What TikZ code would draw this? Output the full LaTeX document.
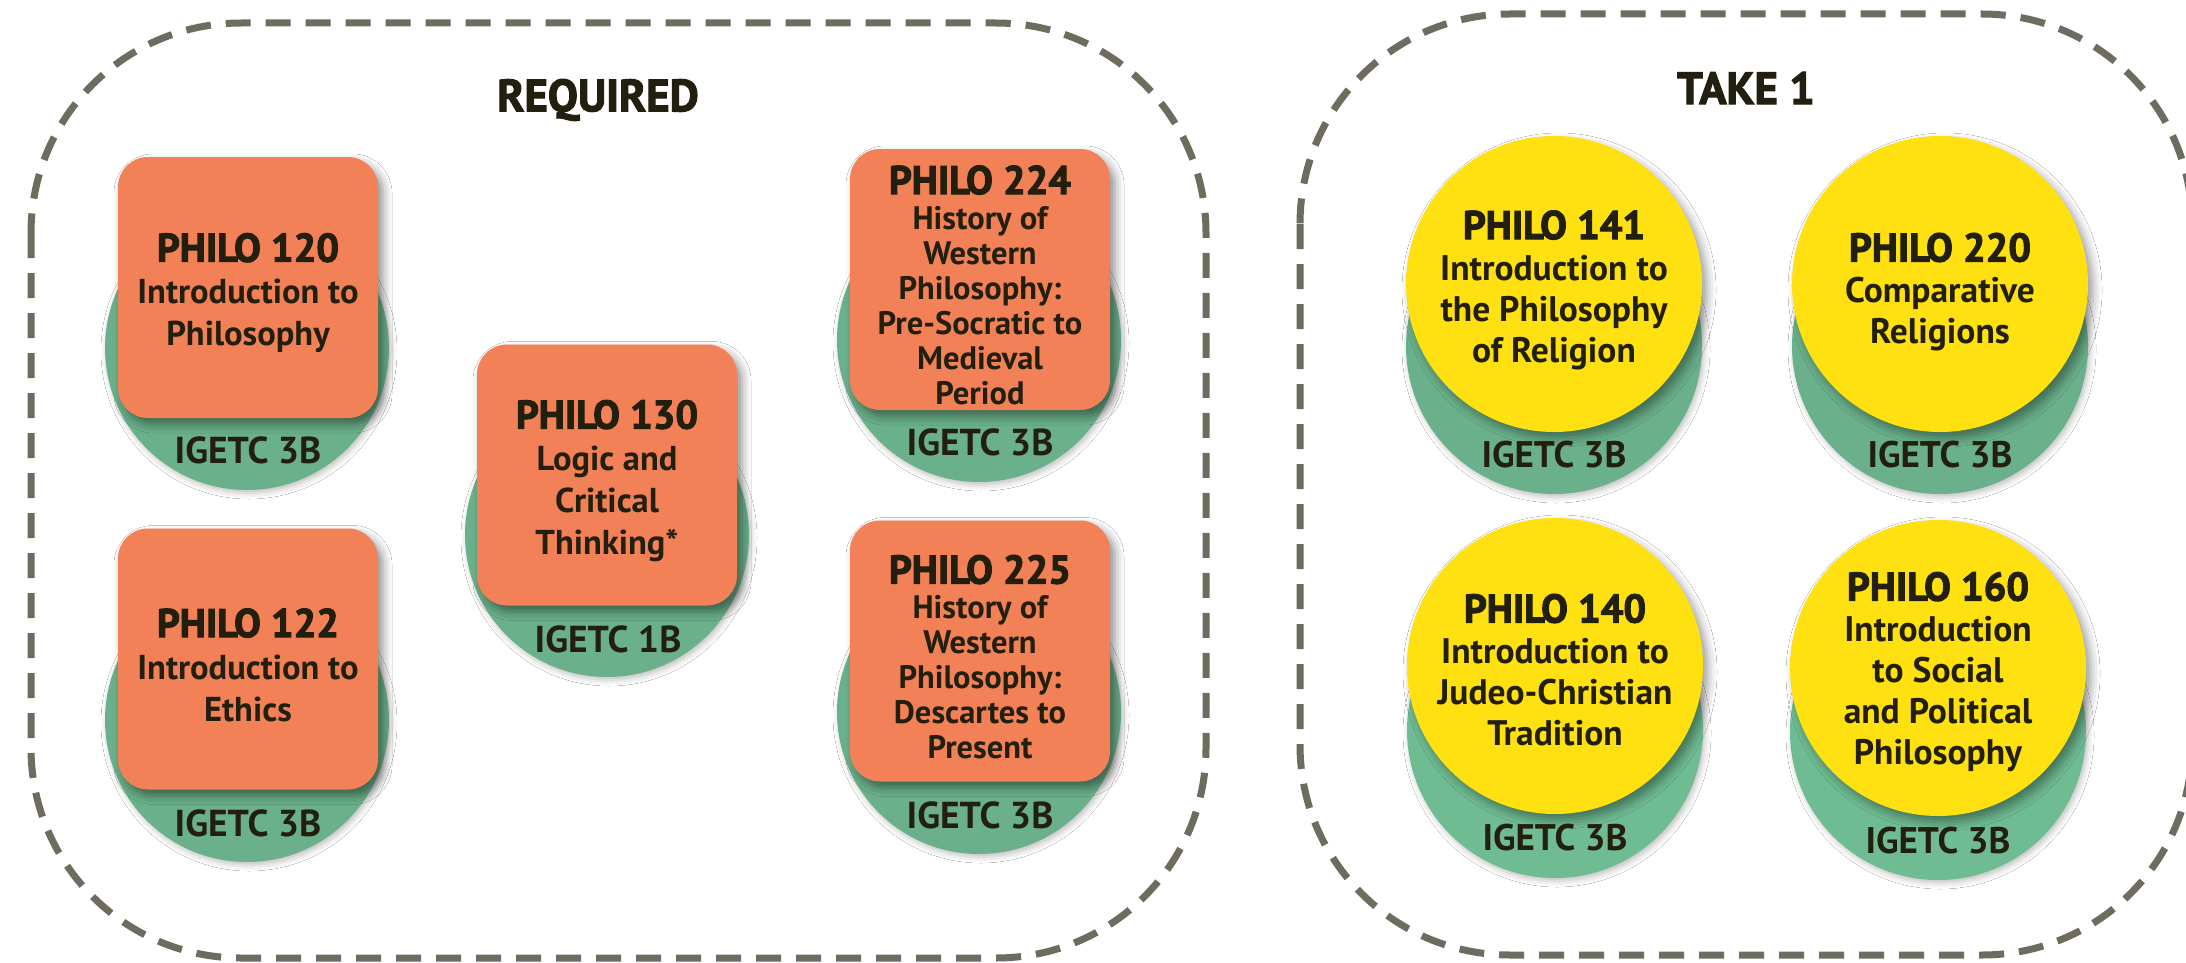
\documentclass[tikz,border=0pt]{standalone}
\usepackage{fontspec}
\setmainfont{PT Sans}
\newfontfamily\semib{PT Sans Bold}
\newfontfamily\titlef{PT Sans Bold}[FakeBold=2.5]
\usetikzlibrary{shadows.blur}
\definecolor{orng}{HTML}{F38157}
\definecolor{grn}{HTML}{6AB18B}
\definecolor{grnb}{HTML}{6FBC93}
\definecolor{yel}{HTML}{FFE011}
\definecolor{ink}{HTML}{231F0E}
\definecolor{dashc}{HTML}{6E6C5E}
\begin{document}
\begin{tikzpicture}[x=1pt,y=-1pt,
  dashbox/.style={draw=dashc, line width=7pt, dash pattern=on 25pt off 15pt, rounded corners=210pt, inner sep=0pt, fill=none},
  grnL/.style={circle, fill=grn, minimum size=284pt, inner sep=0pt,
    blur shadow={shadow xshift=2pt, shadow yshift=-3pt, shadow blur radius=6pt, shadow opacity=25}},
  grnR/.style={circle, fill=grn, minimum size=296pt, inner sep=0pt,
    blur shadow={shadow xshift=2pt, shadow yshift=-3pt, shadow blur radius=6pt, shadow opacity=25}},
  orbox/.style={rectangle, rounded corners=30pt, fill=orng, minimum width=260pt, minimum height=261pt, inner sep=0pt,
    blur shadow={shadow xshift=5pt, shadow yshift=-6pt, shadow blur radius=9pt, shadow opacity=45}},
  yecirc/.style={circle, fill=yel, minimum size=296pt, inner sep=0pt,
    blur shadow={shadow xshift=5pt, shadow yshift=-6pt, shadow blur radius=9pt, shadow opacity=40}},
  ltxt/.style={align=center, text=ink, inner sep=0pt, font=\semib\fontsize{34.5}{42}\selectfont},
  ltxtc/.style={align=center, text=ink, inner sep=0pt, font=\semib\fontsize{32.5}{35}\selectfont},
  rtxt/.style={align=center, text=ink, inner sep=0pt, font=\semib\fontsize{35.5}{41}\selectfont},
  igL/.style={text=ink, inner sep=0pt, font=\semib\fontsize{37.5}{40}\selectfont},
  igR/.style={text=ink, inner sep=0pt, font=\semib\fontsize{37}{40}\selectfont},
  head/.style={text=ink, inner sep=0pt, font=\titlef\fontsize{45}{48}\selectfont}
]
\useasboundingbox (0,0) rectangle (2186,963);
\fill[white] (0,0) rectangle (2186,963);

% frames
\draw[dashbox] (31,23) rectangle (1206,958);
\draw[dashbox] (1300,14) rectangle (2192,955);
\node[head] (req) at (598,100) {REQUIRED};
\node[head] (take) at (1746,88) {TAKE 1};

\newcommand{\lt}[1]{{\titlef\fontsize{40}{42}\selectfont #1}}
\newcommand{\rt}[1]{{\titlef\fontsize{40}{44}\selectfont #1}}

% ---------- required ----------
\node[grnL] (g120) at (247,348) {};
\node[orbox] (b120) at (248,287.5) {};
\node[igL] (i120) at (248,450) {IGETC 3B};
\node[ltxt] (t120) at (248,293) {\lt{PHILO 120}\\Introduction to\\Philosophy};

\node[grnL] (g122) at (247,720) {};
\node[orbox] (b122) at (248,659) {};
\node[igL] (i122) at (248,823) {IGETC 3B};
\node[ltxt] (t122) at (248,665) {\lt{PHILO 122}\\Introduction to\\Ethics};

\node[grnL] (g130) at (607,535) {};
\node[orbox] (b130) at (607,475) {};
\node[igL] (i130) at (608,639) {IGETC 1B};
\node[ltxt] (t130) at (607,481) {\lt{PHILO 130}\\Logic and\\Critical\\Thinking*};

\node[grnL] (g224) at (979,340) {};
\node[orbox] (b224) at (980,279.5) {};
\node[igL] (i224) at (980,442) {IGETC 3B};
\node[ltxtc] (t224) at (980,285) {\lt{PHILO 224}\\History of\\Western\\Philosophy:\\Pre-Socratic to\\Medieval\\Period};

\node[grnL] (g225) at (979,712) {};
\node[orbox] (b225) at (980,651) {};
\node[igL] (i225) at (980,815) {IGETC 3B};
\node[ltxtc] (t225) at (980,657) {\lt{PHILO 225}\\History of\\Western\\Philosophy:\\Descartes to\\Present};

% ---------- take 1 ----------
\node[grnR] (g141) at (1554,346) {};
\node[yecirc] (c141) at (1554,284) {};
\node[igR] (i141) at (1554,455) {IGETC 3B};
\node[rtxt] (t141) at (1554,290) {\rt{PHILO 141}\\Introduction to\\the Philosophy\\of Religion};

\node[grnR] (g220) at (1940,346) {};
\node[yecirc] (c220) at (1940,284) {};
\node[igR] (i220) at (1940,455) {IGETC 3B};
\node[rtxt] (t220) at (1940,292) {\rt{PHILO 220}\\Comparative\\Religions};

\node[grnR, fill=grnb] (g140) at (1555,730) {};
\node[yecirc] (c140) at (1555,666) {};
\node[igR] (i140) at (1555,838) {IGETC 3B};
\node[rtxt] (t140) at (1555,670) {\rt{PHILO 140}\\Introduction to\\Judeo-Christian\\Tradition};

\node[grnR, fill=grnb] (g160) at (1938,732) {};
\node[yecirc] (c160) at (1938,668) {};
\node[igR] (i160) at (1938,841) {IGETC 3B};
\node[rtxt] (t160) at (1938,672) {\rt{PHILO 160}\\Introduction\\to Social\\and Political\\Philosophy};
\end{tikzpicture}
\end{document}
